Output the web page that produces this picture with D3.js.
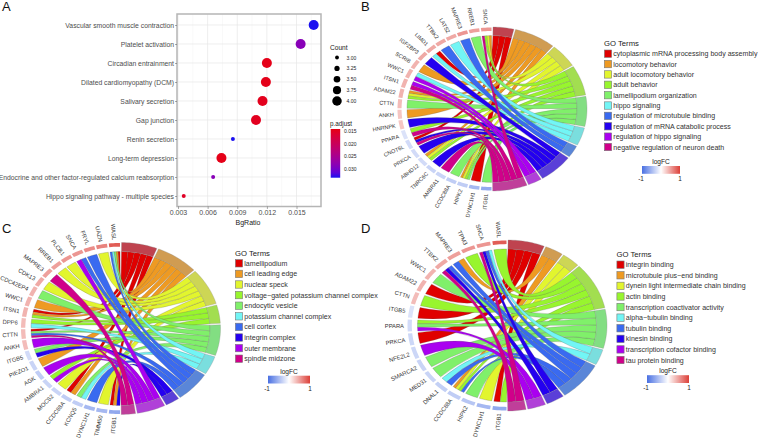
<!DOCTYPE html>
<html><head><meta charset="utf-8">
<script src="https://cdn.jsdelivr.net/npm/d3@7"></script>
<style>html,body{margin:0;padding:0;background:#fff}svg{display:block}text{font-family:"Liberation Sans",Arial,sans-serif}</style>
</head><body><svg id="c" width="759" height="439"></svg>
<script>
// ---------- panel A data ----------
const pathways=["Vascular smooth muscle contraction","Platelet activation","Circadian entrainment","Dilated cardiomyopathy (DCM)","Salivary secretion","Gap junction","Renin secretion","Long-term depression","Endocrine and other factor-regulated calcium reabsorption","Hippo signaling pathway - multiple species"];
const bgRatio=[0.01674,0.01542,0.0120,0.0119,0.01156,0.0109,0.00856,0.0074,0.00656,0.00358];
const counts=[4,4,4,4,4,4,3,4,3,3];
const pAdjust=[0.0334,0.0285,0.0145,0.0146,0.0148,0.0150,0.0334,0.0145,0.0285,0.0155];
const xTicks=[0.003,0.006,0.009,0.012,0.015];
const xMinor=[0.0045,0.0075,0.0105,0.0135,0.0165];
const countLegend=[3,3.25,3.5,3.75,4];
const pLegend=[0.015,0.02,0.025,0.03];
// ---------- shared colours ----------
const ribbonCols=["#e00000","#ee9a22","#e2f52e","#98f52e","#80f06a","#72f5f5","#3a6af0","#2400f0","#aa00f0","#d0008a"];
const ringCols=["#bf434f","#d09c52","#cdd655","#a2de50","#82de82","#7adede","#5a86d8","#5a3fd8","#b040d8","#c03e9a"];
// ---------- panel B data (genes clockwise from the bottom) ----------
const bTerms=["cytoplasmic mRNA processing body assembly","locomotory behavior","adult locomotory behavior","adult behavior","lamellipodium organization","hippo signaling","regulation of microtubule binding","regulation of mRNA catabolic process","regulation of hippo signaling","negative regulation of neuron death"];
const bGenes=["ITGB1","DYNC1H1","HIPK2","CCDC88A","AMBRA1","TNRC6C","ABHD12","PRKCA","CNOT6L","PPARA","HNRNPK","ANKH","CTTN","ADAM22","ITSN1","WWC1","SCRIB","IGF2BP3","LIMD1","TTBK2","LATS2","MAPRE3","RREB1","SNCA"];
const bLogFC=[-0.6,-0.5,-0.35,-0.35,-0.3,-0.3,-0.25,-0.25,-0.25,-0.2,0.3,0.3,0.35,0.4,0.4,0.4,0.4,0.45,0.45,0.45,0.45,0.55,0.5,0.55];
const bLinks=[[4],[0],[4,3,2,1],[4],[9],[7],[3,2,1],[7],[9,7,0],[9,3],[7],[1],[4],[3,2,1],[9,8],[8,5],[1],[7],[5,0],[6],[5],[6],[4],[9,3,2,1]];
// ---------- panel C data ----------
const cTerms=["lamellipodium","cell leading edge","nuclear speck","voltage\u2212gated potassium channel complex","endocytic vesicle","potassium channel complex","cell cortex","integrin complex","outer membrane","spindle midzone"];
const cGenes=["ITGB1","TIMM50","DYNC1H1","KCNQ5","CCDC88A","MOCS2","AMBRA1","AGK","PIEZO1","ITGB5","ANKH","CTTN","DPP6","ITSN1","WWC1","CDC42EP4","CDK13","MAPRE3","RREB1","PLCB1","SNCA","FRYL","UAZN","WASL"];
const cLogFC=[-0.6,-0.5,-0.5,-0.35,-0.35,-0.3,-0.3,-0.35,-0.3,-0.25,0.35,0.35,0.35,0.4,0.4,0.4,0.45,0.5,0.5,0.55,0.55,0.6,0.65,0.85];
const cLinks=[[7,1,0],[2],[6],[5,4],[1,0],[2],[8,3],[8],[1],[7,4],[8],[9,6,4,0],[5,3],[3,1,0],[1],[4],[2],[9],[2],[2],[8,6],[6],[2],[6,5,4,1,0]];
// ---------- panel D data ----------
const dTerms=["integrin binding","microtubule plus\u2212end binding","dynein light intermediate chain binding","actin binding","transcription coactivator activity","alpha\u2212tubulin binding","tubulin binding","kinesin binding","transcription cofactor binding","tau protein binding"];
const dGenes=["ITGB1","DYNC1H1","HIPK2","CCDC88A","DNAL1","MED31","SMARCA2","NFE2L2","PRKCA","PPARA","ITGB5","CTTN","ADAM22","WWC1","TTBK2","MAPRE3","TPM3","SNCA","WASL"];
const dLogFC=[-0.6,-0.5,-0.4,-0.35,-0.33,-0.3,-0.3,-0.28,-0.28,-0.25,-0.2,0.35,0.4,0.4,0.45,0.5,0.55,0.55,0.85];
const dLinks=[[3,0],[2],[4],[6,3,2,1],[6,5],[4],[4],[8],[0],[8,4,3],[0],[3],[0],[4],[9,7,6],[6,1],[3],[9,7,6,5],[3]];

const svg=d3.select("#c");
const ink="#4d4d4d", dark="#222";
function letter(t,x,y){svg.append("text").attr("x",x).attr("y",y).attr("font-size",13).attr("fill","#111").text(t);}
letter("A",2,11);letter("B",361,11);letter("C",2,233);letter("D",361,233);

// ---------- Panel A ----------
(function(){
  const L=177,R=321,T=14,B=206.5;
  const x=d3.scaleLinear().domain([0.003,0.015]).range([178,296.5]);
  const y=d3.scalePoint().domain(pathways).range([25,196]);
  const col=d3.scaleLinear().domain([0.0142,0.0334]).range(["#e60012","#1a10f0"]).interpolate(d3.interpolateLab);
  const r=d3.scaleLinear().domain([3,4]).range([2,5]);
  const g=svg.append("g");
  g.selectAll("line.mi").data(xMinor).join("line").attr("x1",d=>x(d)).attr("x2",d=>x(d)).attr("y1",T).attr("y2",B).attr("stroke","#f2f2f2").attr("stroke-width",.5);
  g.selectAll("line.ma").data(xTicks).join("line").attr("x1",d=>x(d)).attr("x2",d=>x(d)).attr("y1",T).attr("y2",B).attr("stroke","#e6e6e6").attr("stroke-width",.7);
  g.selectAll("line.h").data(pathways).join("line").attr("x1",L).attr("x2",R).attr("y1",d=>y(d)).attr("y2",d=>y(d)).attr("stroke","#e6e6e6").attr("stroke-width",.7);
  g.selectAll("circle").data(pathways).join("circle").attr("cx",(d,i)=>x(bgRatio[i])).attr("cy",d=>y(d)).attr("r",(d,i)=>r(counts[i])).attr("fill",(d,i)=>col(pAdjust[i]));
  g.append("rect").attr("x",L).attr("y",T).attr("width",R-L).attr("height",B-T).attr("fill","none").attr("stroke","#b5b5b5").attr("stroke-width",1.5);
  const ax=g.append("g").attr("transform",`translate(0,${B})`).call(d3.axisBottom(x).tickValues(xTicks).tickFormat(d3.format(".3f")).tickSize(2.5));
  ax.select(".domain").remove();
  ax.selectAll("line").attr("stroke","#555").attr("stroke-width",.5);
  ax.selectAll("text").attr("fill",ink).attr("font-size",7).attr("font-family","Liberation Sans").attr("dy","0.85em").attr("y",2.5);
  const ay=g.append("g").attr("transform",`translate(${L},0)`).call(d3.axisLeft(y).tickSize(2).tickPadding(1));
  ay.select(".domain").remove();
  ay.selectAll("line").attr("stroke","#555").attr("stroke-width",.5);
  ay.selectAll("text").attr("fill",ink).attr("font-size",6.8).attr("font-family","Liberation Sans");
  g.append("text").attr("x",248).attr("y",224.5).attr("text-anchor","middle").attr("font-size",7).attr("fill",dark).text("BgRatio");
  // size legend
  const ly=d3.scalePoint().domain(countLegend).range([57.5,101]);
  g.append("text").attr("x",330).attr("y",50).attr("font-size",6.6).attr("fill",dark).text("Count");
  g.selectAll("circle.l").data(countLegend).join("circle").attr("cx",337).attr("cy",d=>ly(d)).attr("r",d=>r(d)*.95).attr("fill","#000");
  g.selectAll("text.l").data(countLegend).join("text").attr("x",346.5).attr("y",d=>ly(d)+2).attr("font-size",5).attr("fill",dark).text(d=>d3.format(".2f")(d));
  // colour legend
  g.append("text").attr("x",330).attr("y",126).attr("font-size",6.3).attr("fill",dark).text("p.adjust");
  const defs=svg.append("defs");
  const lg=defs.append("linearGradient").attr("id","pg").attr("x1",0).attr("x2",0).attr("y1",0).attr("y2",1);
  d3.range(0,1.01,.1).forEach(t=>lg.append("stop").attr("offset",t).attr("stop-color",col(0.0142+t*(0.0334-0.0142))));
  const py=d3.scaleLinear().domain([0.0142,0.0334]).range([129,177.7]);
  g.append("rect").attr("x",330.7).attr("y",129).attr("width",9.5).attr("height",48.7).attr("fill","url(#pg)");
  g.selectAll("text.p").data(pLegend).join("text").attr("x",344).attr("y",d=>py(d)+1.8).attr("font-size",5).attr("fill",dark).text(d=>d3.format(".3f")(d));
})();

// ---------- Chord panels ----------
const fcCol=d3.scaleLinear().domain([-1,0,1]).range(["#4a70e2","#ffffff","#dc4038"]);
const grad=svg.append("defs").append("linearGradient").attr("id","fc");
d3.range(-1,1.01,.1).forEach(v=>grad.append("stop").attr("offset",(v+1)/2).attr("stop-color",fcCol(v)));

function chord(o){
  const {terms,genes,logFC,links}=o;
  const g=svg.append("g");
  const sx=d3.scaleLinear().domain([-1,1]).range([o.cx-o.rx,o.cx+o.rx]);
  const sy=d3.scaleLinear().domain([-1,1]).range([o.cy-o.ry,o.cy+o.ry]);
  const pt=(deg,r)=>{const a=deg*Math.PI/180;return [sx(r*Math.sin(a)),sy(-r*Math.cos(a))];};
  const arcTo=(p,a0,a1,r,first)=>{
    const n=Math.max(2,Math.ceil(Math.abs(a1-a0)/1.5));
    for(let i=0;i<=n;i++){const q=pt(a0+(a1-a0)*i/n,r); if(i===0&&first)p.moveTo(q[0],q[1]); else p.lineTo(q[0],q[1]);}
  };
  const termCount=terms.map((t,i)=>d3.sum(links,l=>l.includes(i)?1:0));
  const gapT=o.gapT, gapG=o.gapG;
  const unit=d3.scaleLinear().domain([0,d3.sum(termCount)]).range([0.6,179.6-gapT*(terms.length-1)]);
  let cum=0;
  const termArc=terms.map((t,i)=>{const a=unit(cum)+gapT*i;cum+=termCount[i];return [a,unit(cum)+gapT*i];});
  const geneBand=d3.scaleBand().domain(genes).range([180.3,359.7]).paddingInner(gapG);
  const rib=[];
  genes.forEach((gn,gi)=>{
    const b0=geneBand(gn),w=geneBand.bandwidth()/links[gi].length;
    links[gi].forEach((t,k)=>rib.push({gi,t,g0:b0+k*w,g1:b0+(k+1)*w}));
  });
  terms.forEach((t,ti)=>{
    const here=rib.filter(d=>d.t===ti).sort((a,b)=>b.gi-a.gi);
    here.forEach((d,k)=>{const s=(termArc[ti][1]-termArc[ti][0])/here.length;d.t0=termArc[ti][0]+k*s;d.t1=d.t0+s;});
  });
  const Rb=o.Rb, [c0,c1]=[sx(0),sy(0)];
  g.selectAll("path.rib").data(rib.slice().sort((a,b)=>a.t-b.t)).join("path")
   .attr("d",d=>{const p=d3.path();arcTo(p,d.g0,d.g1,Rb,true);const a=pt(d.t0,Rb);p.quadraticCurveTo(c0,c1,a[0],a[1]);arcTo(p,d.t0,d.t1,Rb,false);const b=pt(d.g0,Rb);p.quadraticCurveTo(c0,c1,b[0],b[1]);p.closePath();return p.toString();})
   .attr("fill",d=>ribbonCols[d.t]).attr("stroke","#555").attr("stroke-width",.3).attr("stroke-opacity",.8);
  g.selectAll("path.tr").data(terms).join("path")
   .attr("d",(t,i)=>{const p=d3.path();arcTo(p,termArc[i][0],termArc[i][1],1,true);arcTo(p,termArc[i][1],termArc[i][0],Rb,false);p.closePath();return p.toString();})
   .attr("fill",(t,i)=>ringCols[i]).attr("stroke","#888").attr("stroke-width",.3);
  g.selectAll("path.gr").data(genes).join("path")
   .attr("d",gn=>{const a=geneBand(gn),b=a+geneBand.bandwidth();const p=d3.path();arcTo(p,a,b,.995,true);arcTo(p,b,a,o.Rg,false);p.closePath();return p.toString();})
   .attr("fill",(gn,i)=>fcCol(logFC[i]));
  g.selectAll("text.gl").data(genes).join("text")
   .attr("transform",gn=>{
     const a=geneBand(gn)+geneBand.bandwidth()/2, q=pt(a,o.Rl), c=pt(a,.5), ang=Math.atan2(c[1]-q[1],c[0]-q[0])*180/Math.PI;
     return `translate(${q[0]},${q[1]}) rotate(${ang})`;})
   .attr("text-anchor","end").attr("dy","0.35em").attr("font-size",o.fs).attr("fill","#333").text(gn=>gn);
  const lg=svg.append("g");
  lg.append("text").attr("x",o.lx).attr("y",o.ly0-7.6).attr("font-size",7.7).attr("fill",dark).text("GO Terms");
  const ry=d3.scaleLinear().domain([0,9]).range([o.ly0,o.ly1]);
  lg.selectAll("rect.sw").data(terms).join("rect").attr("x",o.lx+.4).attr("y",(t,i)=>ry(i)-3.7).attr("width",7.2).attr("height",7.4)
    .attr("fill",(t,i)=>ribbonCols[i]).attr("stroke","#777").attr("stroke-width",.6);
  lg.selectAll("text.tl").data(terms).join("text").attr("x",o.lx+9.3).attr("y",(t,i)=>ry(i)+2.5).attr("font-size",7.05).attr("fill","#333").text(t=>t);
  lg.append("text").attr("x",(o.bx0+o.bx1)/2).attr("y",o.by-2).attr("text-anchor","middle").attr("font-size",6.6).attr("fill",dark).text("logFC");
  lg.append("rect").attr("x",o.bx0).attr("y",o.by).attr("width",o.bx1-o.bx0).attr("height",7.8).attr("fill","url(#fc)");
  lg.append("text").attr("x",o.bx0-1).attr("y",o.by+15).attr("text-anchor","middle").attr("font-size",6.4).attr("fill",dark).text("-1");
  lg.append("text").attr("x",o.bx1).attr("y",o.by+15).attr("text-anchor","middle").attr("font-size",6.4).attr("fill",dark).text("1");
}
chord({terms:bTerms,genes:bGenes,logFC:bLogFC,links:bLinks,cx:492,cy:109,rx:95,ry:82,Rb:.895,Rg:.952,Rl:1.035,fs:5.5,gapT:1,gapG:.14,lx:604,ly0:53.7,ly1:147,bx0:642,bx1:680,by:166});
chord({terms:cTerms,genes:cGenes,logFC:cLogFC,links:cLinks,cx:120.5,cy:328.5,rx:100,ry:86,Rb:.895,Rg:.952,Rl:1.03,fs:5.8,gapT:1,gapG:.14,lx:235,ly0:263.3,ly1:358.7,bx0:268,bx1:310,by:375.7});
chord({terms:dTerms,genes:dGenes,logFC:dLogFC,links:dLinks,cx:507,cy:325.5,rx:100,ry:85.5,Rb:.895,Rg:.952,Rl:1.03,fs:5.8,gapT:1,gapG:.14,lx:616.5,ly0:264.7,ly1:360,bx0:647,bx1:689,by:375.2});
</script></body></html>
